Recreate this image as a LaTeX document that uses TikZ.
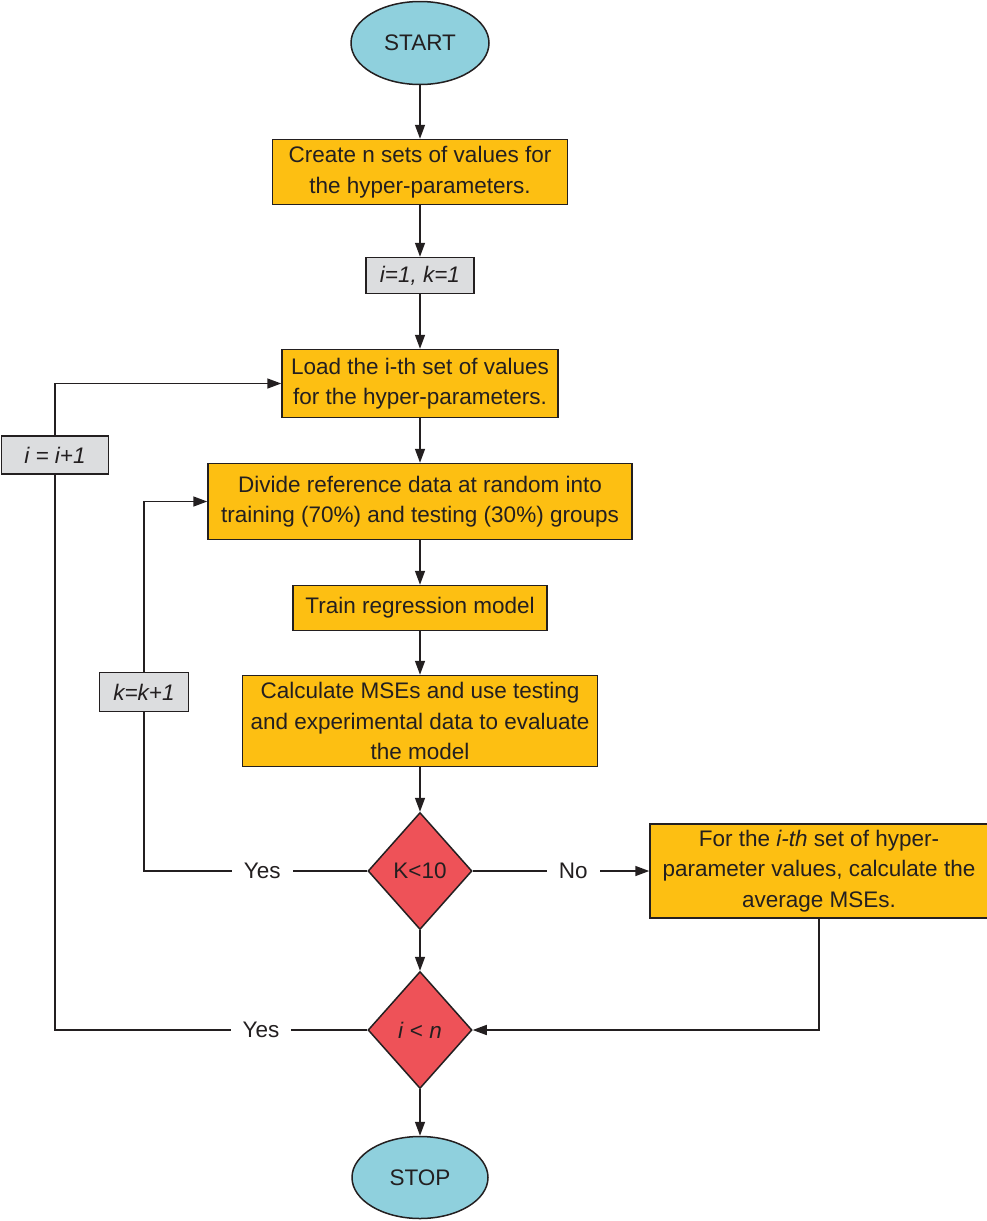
\documentclass[tikz,border=0pt]{standalone}
\usepackage{fontspec}
\setmainfont{Liberation Sans}
\usetikzlibrary{positioning,shapes.geometric,arrows.meta}

\definecolor{termblue}{HTML}{8FD0DD}
\definecolor{stepyellow}{HTML}{FDBF12}
\definecolor{testred}{HTML}{EE5258}
\definecolor{countgray}{HTML}{DCDDDF}
\definecolor{inkline}{HTML}{231F20}

\tikzset{
  every node/.style={font=\fontsize{22.5}{30.5}\selectfont, text=inkline},
  terminal/.style={ellipse, draw=inkline, line width=1.5pt, fill=termblue,
    minimum width=138pt, minimum height=83pt},
  process/.style={rectangle, draw=inkline, line width=1.5pt, fill=stepyellow,
    align=center, inner sep=0pt},
  counter/.style={rectangle, draw=inkline, line width=1.5pt, fill=countgray,
    font=\fontsize{22.5}{30.5}\selectfont\itshape, inner sep=0pt},
  decision/.style={diamond, draw=inkline, line width=1.5pt, fill=testred,
    inner sep=0pt, minimum width=104pt, minimum height=117pt},
  flow/.style={draw=inkline, line width=1.5pt, -{Triangle[length=14pt,width=10pt]}},
  link/.style={draw=inkline, line width=1.5pt},
  answer/.style={fill=white, inner xsep=12pt, inner ysep=2pt},
}

\begin{document}
\begin{tikzpicture}[x=1pt, y=1pt]
  \useasboundingbox (0,0) rectangle (987,-1221);

  % main column
  \node[terminal] (start) at (420,-43) {START};
  \node[process, minimum width=295pt, minimum height=65pt, below=53.5pt of start] (create)
    {Create n sets of values for\\the hyper-parameters.};
  \node[counter, minimum width=108pt, minimum height=36pt, below=51.5pt of create] (init) {i=1, k=1};
  \node[process, minimum width=276pt, minimum height=68pt, below=54.5pt of init] (load)
    {Load the i-th set of values\\for the hyper-parameters.};
  \node[process, minimum width=424pt, minimum height=76pt, below=44.5pt of load] (divide)
    {Divide reference data at random into\\training (70\%) and testing (30\%) groups};
  \node[process, minimum width=254pt, minimum height=45pt, below=44.5pt of divide] (train)
    {Train regression model};
  \node[process, minimum width=355pt, minimum height=91pt, below=43.5pt of train] (mse)
    {Calculate MSEs and use testing\\and experimental data to evaluate\\the model};
  \node[decision, below=44.5pt of mse] (ktest) {K<10};
  \node[decision, below=40.5pt of ktest] (itest) {\textit{i} < \textit{n}};
  \node[terminal, minimum width=136pt, minimum height=82pt, below=46.5pt of itest] (stop) {STOP};

  % side boxes
  \node[process, minimum width=338pt, minimum height=94pt, right=176.5pt of ktest] (avg)
    {For the \textit{i-th} set of hyper-\\parameter values, calculate the\\average MSEs.};
  \node[counter, minimum width=89pt, minimum height=39pt] (knext) at (144,-692) {k=k+1};
  \node[counter, minimum width=107pt, minimum height=38pt] (inext) at (55,-455) {i = i+1};

  % connectors
  \draw[flow] (start) -- (create);
  \draw[flow] (create) -- (init);
  \draw[flow] (init) -- (load);
  \draw[flow] (load) -- (divide);
  \draw[flow] (divide) -- (train);
  \draw[flow] (train) -- (mse);
  \draw[flow] (mse) -- (ktest);
  \draw[flow] (ktest) -- (itest);
  \draw[flow] (itest) -- (stop);

  \draw[flow] (ktest.east) -- node[answer, pos=0.57] {No} (avg.west);
  \draw[flow] (avg.south) |- (itest.east);

  \draw[link] (ktest.west) -- node[answer, pos=0.47] {Yes} (ktest.west -| knext.south) -- (knext.south);
  \draw[flow] (knext.north) |- (divide.west);

  \draw[link] (itest.west) -- node[answer, pos=0.34] {Yes} (itest.west -| inext.south) -- (inext.south);
  \draw[flow] (inext.north) |- (load.west);
\end{tikzpicture}
\end{document}
